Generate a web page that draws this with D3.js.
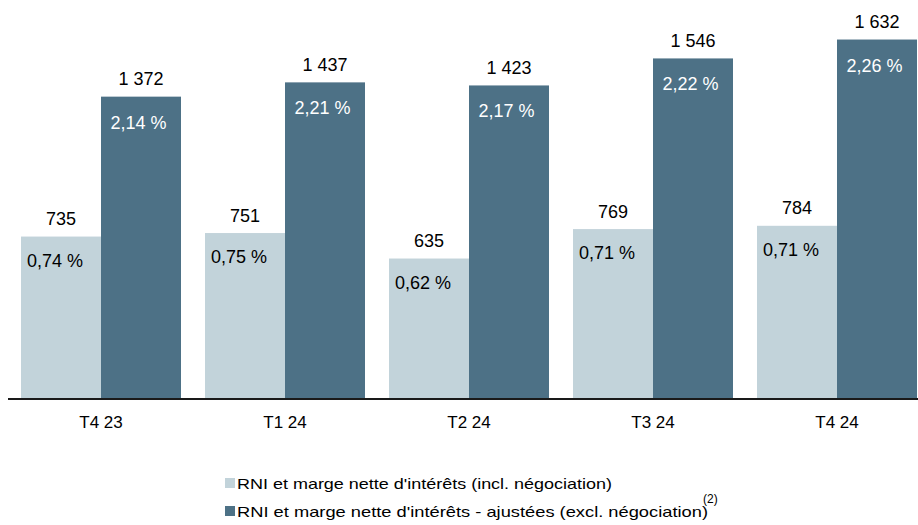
<!DOCTYPE html>
<html><head><meta charset="utf-8">
<script src="https://cdn.jsdelivr.net/npm/d3@7"></script>
<style>body{margin:0;background:#fff}svg{display:block;font-family:"Liberation Sans",Arial,sans-serif}</style>
</head><body>
<svg id="c" width="918" height="525"></svg>
<script>
const categories = ["T4 23","T1 24","T2 24","T3 24","T4 24"];
const rniIncl = [735, 751, 635, 769, 784];
const rniAdj = [1372, 1437, 1423, 1546, 1632];
const margeIncl = ["0,74 %","0,75 %","0,62 %","0,71 %","0,71 %"];
const margeAdj = ["2,14 %","2,21 %","2,17 %","2,22 %","2,26 %"];
const valueLabels = v => d3.format(",")(v).replace(/,/g, "\u00a0");
const legendLabels = ["RNI et marge nette d'intérêts (incl. négociation)", "RNI et marge nette d'intérêts - ajustées (excl. négociation)"];
const colors = ["#c2d3da", "#4d7186"];

const svg = d3.select("#c");
const y0 = 398;
const x = d3.scaleBand().domain(categories).range([21, 917]).paddingInner(24/184).paddingOuter(0);
const xs = d3.scaleBand().domain([0,1]).range([0, x.bandwidth()]);
const y = d3.scaleLinear().domain([0, 1812]).range([y0, 0]);

const series = [rniIncl, rniAdj];
const pct = [margeIncl, margeAdj];

series.forEach((vals, si) => {
  const g = svg.append("g");
  g.selectAll("rect").data(vals).join("rect")
    .attr("x", (d,i) => x(categories[i]) + xs(si))
    .attr("y", d => y(d))
    .attr("width", xs.bandwidth())
    .attr("height", d => y0 - y(d))
    .attr("fill", colors[si]);
  g.selectAll("text.v").data(vals).join("text").attr("class","v")
    .attr("x", (d,i) => x(categories[i]) + xs(si) + xs.bandwidth()/2)
    .attr("y", d => y(d) - 11.5)
    .attr("text-anchor","middle").attr("font-size", 18).attr("fill","#000")
    .text(d => valueLabels(d));
  g.selectAll("text.p").data(vals).join("text").attr("class","p")
    .attr("x", (d,i) => si === 0 ? x(categories[i]) + 6 : x(categories[i]) + xs(si) + xs.bandwidth()/2 - 2.5)
    .attr("y", d => y(d) + (si === 0 ? 30 : 32))
    .attr("text-anchor", si === 0 ? "start" : "middle")
    .attr("font-size", 18).attr("fill", si === 0 ? "#000" : "#fff")
    .text((d,i) => pct[si][i]);
});

// axis
const ax = svg.append("g").attr("transform", `translate(0,${y0})`)
  .call(d3.axisBottom(x).tickSize(0).tickPadding(18));
ax.select(".domain").remove();
svg.append("line").attr("x1", 8).attr("x2", 918).attr("y1", y0+1).attr("y2", y0+1)
  .attr("stroke", "#1a1a1a").attr("stroke-width", 2);
ax.selectAll("text").attr("font-size", 17).attr("font-family", "'Liberation Sans',Arial,sans-serif").attr("fill", "#000").attr("dy", "0.71em");

// legend
const lg = svg.append("g");
const legendWidths = [375, 471];
legendLabels.forEach((t, i) => {
  const ly = 489 + i*28;
  lg.append("rect").attr("x", 225).attr("y", ly - 11).attr("width", 10).attr("height", 10).attr("fill", colors[i]);
  lg.append("text").attr("x", 237).attr("y", ly).attr("font-size", 14.5).attr("fill", "#000")
    .attr("textLength", legendWidths[i]).attr("lengthAdjust", "spacingAndGlyphs").text(t);
  if (i === 1) {
    lg.append("text").attr("x", 703).attr("y", ly - 14).attr("font-size", 12).attr("fill", "#000").text("(2)");
  }
});
</script>
</body></html>
